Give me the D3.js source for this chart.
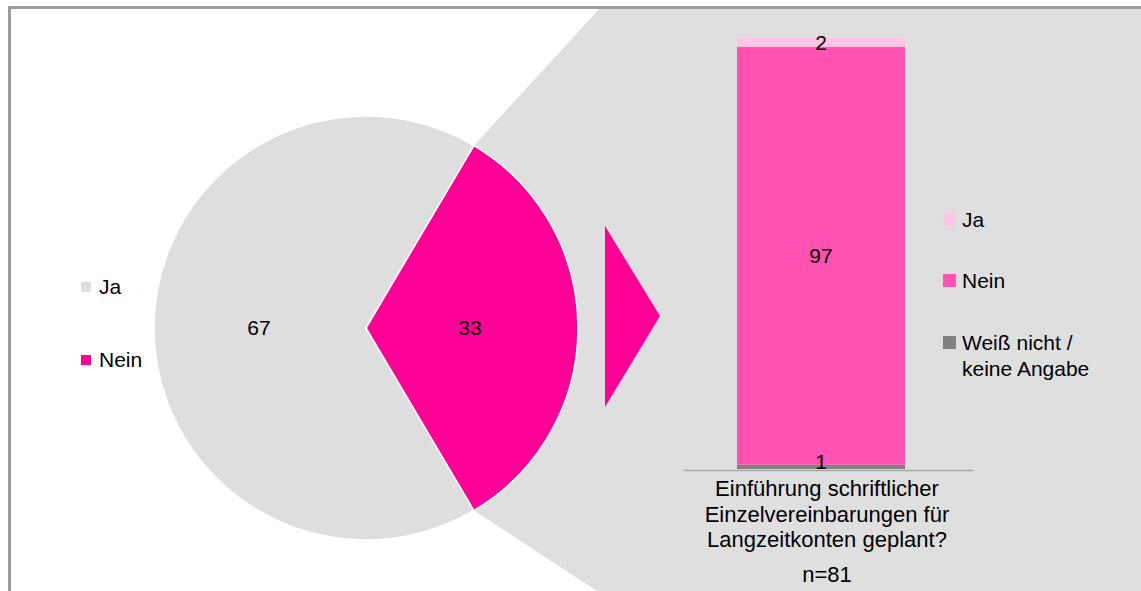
<!DOCTYPE html>
<html>
<head>
<meta charset="utf-8">
<script src="https://cdn.jsdelivr.net/npm/d3@7"></script>
<style>
  html, body { margin: 0; padding: 0; background: #ffffff; }
  svg { display: block; font-family: "Liberation Sans", Arial, sans-serif; }
</style>
</head>
<body>
<svg id="chart" width="1141" height="591"></svg>
<script>
// ---- data ----
const pieCategories = ["Ja", "Nein"];
const pieValues = [67, 33];
const barCategory = ["Einführung schriftlicher", "Einzelvereinbarungen für", "Langzeitkonten geplant?"];
const barSeries = ["Weiß nicht / keine Angabe", "Nein", "Ja"];
const barValues = [1, 97, 2];
const legendRight = [["Ja"], ["Nein"], ["Weiß nicht /", "keine Angabe"]];
const sampleNote = "n=81";

// ---- styles ----
const pieColors = { "Ja": "#dedede", "Nein": "#ff0096" };
const barColors = { "Ja": "#ffc5e5", "Nein": "#ff52b2", "Weiß nicht / keine Angabe": "#808080" };
const bgGray = "#dfdfdf";
const fontSize = 21;

const svg = d3.select("#chart");

// ---- pie geometry ----
const cx = 366, cy = 328, R = 212;
const total = d3.sum(pieValues);
const neinShare = pieValues[1] / total;
const startA = Math.PI / 2 + Math.PI * neinShare;
const pie = d3.pie().sort(null).startAngle(startA).endAngle(startA + 2 * Math.PI);
const arcs = pie(pieValues);
const arc = d3.arc().innerRadius(0).outerRadius(R);

// endpoints of the Nein slice
const nA = arcs[1];
const p1 = [cx + R * Math.sin(nA.startAngle), cy - R * Math.cos(nA.startAngle)];
const p2 = [cx + R * Math.sin(nA.endAngle), cy - R * Math.cos(nA.endAngle)];
const topPt = p1[1] < p2[1] ? p1 : p2;
const botPt = p1[1] < p2[1] ? p2 : p1;

// ---- connector / background region ----
const topLineEnd = [600, 8];
const botLineEnd = [597, 591];
svg.append("polygon")
  .attr("points", [topPt, topLineEnd, [1141, 8], [1141, 600], botLineEnd, botPt].map(p => p.join(",")).join(" "))
  .attr("fill", bgGray);

// ---- pie ----
const gPie = svg.append("g").attr("transform", `translate(${cx},${cy})`);
gPie.selectAll("path").data(arcs).join("path")
  .attr("d", arc)
  .attr("fill", (d, i) => pieColors[pieCategories[i]])
  .attr("stroke", "#ffffff")
  .attr("stroke-width", 1.5)
  .attr("stroke-linejoin", "round");

// pie labels
const labelPos = [[259 - cx, 0], [470 - cx, 0]];
gPie.selectAll("text.lbl").data(arcs).join("text")
  .attr("class", "lbl")
  .attr("x", (d, i) => labelPos[i][0])
  .attr("y", 0)
  .attr("dy", "0.35em")
  .attr("text-anchor", "middle")
  .attr("font-size", fontSize)
  .attr("fill", "#000")
  .text(d => d.value);

// left legend
const gLegL = svg.append("g");
const legLy = [287, 360];
pieCategories.forEach((c, i) => {
  gLegL.append("rect").attr("x", 81).attr("y", legLy[i] - 5).attr("width", 10).attr("height", 10).attr("fill", pieColors[c]);
  gLegL.append("text").attr("x", 99).attr("y", legLy[i]).attr("dy", "0.35em")
    .attr("font-size", fontSize).attr("fill", "#000").text(c);
});

// arrow
svg.append("polygon")
  .attr("points", "605,226 660,316 605,407")
  .attr("fill", "#ff0096");

// ---- bar chart ----
const y = d3.scaleLinear().domain([0, 100]).range([469, 38]);
const x = d3.scaleBand().domain(["q"]).range([683, 973]).paddingInner(0).paddingOuter(0.363).align(0.443);
const row = { q: "q" };
barSeries.forEach((s, i) => row[s] = barValues[i]);
const stack = d3.stack().keys(barSeries)([row]);

const gBar = svg.append("g");
gBar.selectAll("rect").data(stack).join("rect")
  .attr("x", x("q"))
  .attr("width", x.bandwidth())
  .attr("y", d => y(d[0][1]))
  .attr("height", d => y(d[0][0]) - y(d[0][1]))
  .attr("fill", d => barColors[d.key]);

// axis line
const xAxis = d3.axisBottom(x).tickSize(0).tickFormat("");
const gAx = svg.append("g").attr("transform", `translate(0,${y(0) + 1})`).call(xAxis);
gAx.select(".domain").attr("stroke", "#a6a6a6").attr("stroke-width", 1.5);

// bar labels
const axisY = y(0);
gBar.selectAll("text").data(stack).join("text")
  .attr("x", x("q") + x.bandwidth() / 2)
  .attr("y", d => Math.min((y(d[0][0]) + y(d[0][1])) / 2, axisY - 7))
  .attr("dy", "0.35em")
  .attr("text-anchor", "middle")
  .attr("font-size", fontSize)
  .attr("fill", "#000")
  .text(d => d[0][1] - d[0][0]);

// category label
const catX = 827;
const catBase = [496, 521.5, 546.5];
barCategory.forEach((t, i) => {
  svg.append("text").attr("x", catX).attr("y", catBase[i]).attr("text-anchor", "middle")
    .attr("font-size", 22).attr("fill", "#000").text(t);
});
svg.append("text").attr("x", catX).attr("y", 581.5).attr("text-anchor", "middle")
  .attr("font-size", 22).attr("fill", "#000").text(sampleNote);

// right legend
const legR = [["Ja", 220], ["Nein", 281], ["Weiß nicht / keine Angabe", 343]];
legR.forEach(([k, yy], i) => {
  svg.append("rect").attr("x", 943).attr("y", yy - 7).attr("width", 13).attr("height", 13).attr("fill", barColors[k]);
  legendRight[i].forEach((line, j) => {
    svg.append("text").attr("x", 962).attr("y", yy + j * 26).attr("dy", "0.35em")
      .attr("font-size", fontSize).attr("fill", "#000")
      .text(line);
  });
});

// ---- frame ----
svg.append("path")
  .attr("d", "M9.5,591 L9.5,7.5 L1141,7.5")
  .attr("fill", "none")
  .attr("stroke", "#9d9d9d")
  .attr("stroke-width", 3);
</script>
</body>
</html>
